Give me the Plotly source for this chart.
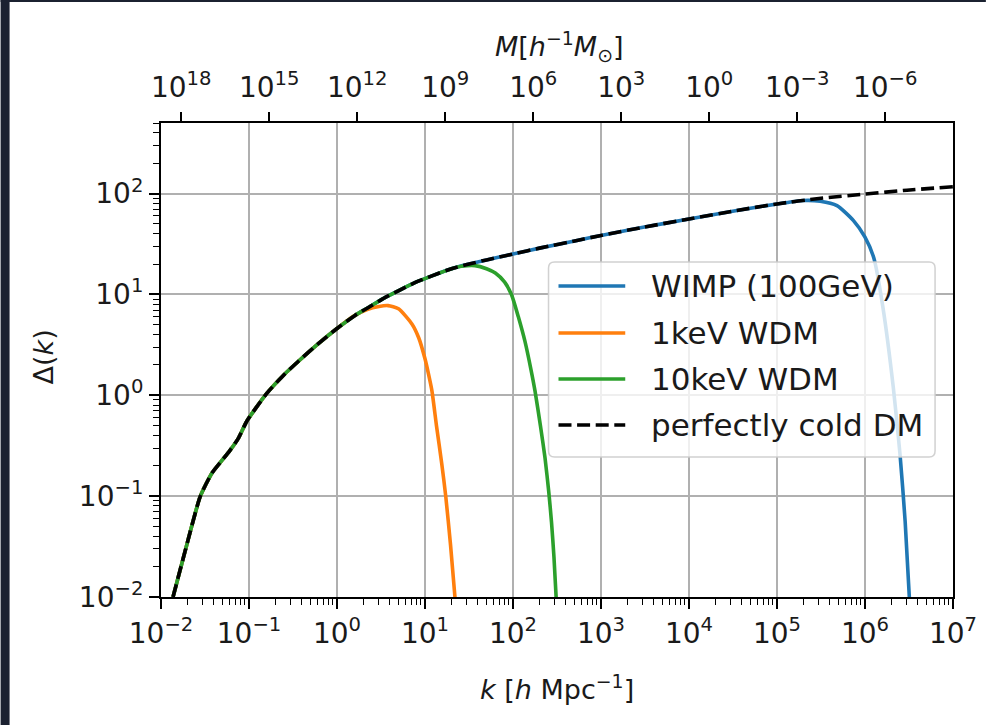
import plotly.graph_objects as go

# Wavenumber k [h/Mpc] and dimensionless power Delta(k) for perfectly cold DM
k_cdm = [0.0137, 0.02, 0.028, 0.038, 0.048, 0.06, 0.075, 0.094, 0.12, 0.16, 0.25,
         0.37, 0.6, 1.0, 1.6, 2.2, 3.5, 5.1, 8, 12, 20, 30, 50, 70, 100, 200, 550,
         1e3, 3e3, 1e4, 3.5e4, 1e5, 3e5, 1e6, 3e6, 1e7]
d_cdm = [0.01, 0.035, 0.1, 0.17, 0.22, 0.28, 0.37, 0.55, 0.75, 1.05, 1.6,
         2.2, 3.2, 4.6, 6.2, 7.3, 9.3, 11, 13.3, 15.3, 18, 19.8, 22, 23.5, 25.2, 28.8, 34.5,
         38.5, 46.3, 56, 68, 79, 89.5, 99, 108, 117]

# Cut-off branches of each model beyond the point where it leaves the cold curve
wimp_cut_k = [2e5, 3.1e5, 4.8e5, 7.4e5, 1e6, 1.26e6, 1.6e6, 2.1e6, 2.5e6, 2.86e6, 3.2e6]
wimp_cut_d = [85.5, 84, 76, 54, 37, 23, 7.4, 1.18, 0.26, 0.056, 0.0095]
wimp_join = 1e5

wdm1_cut_k = [2.2, 3.0, 3.8, 5.0, 7.1, 8.5, 10, 11, 12, 13.5, 15.5, 17.2, 19.5, 22]
wdm1_cut_d = [7.1, 7.6, 7.75, 7.2, 5.1, 3.7, 2.3, 1.6, 1.1, 0.5, 0.21, 0.10, 0.033, 0.0095]
wdm1_join = 1.6

wdm10_cut_k = [26, 37, 50, 63, 80, 96, 115, 137, 160, 178, 205, 231, 255, 274, 292, 310]
wdm10_cut_d = [19.0, 19.3, 18, 16.3, 13.3, 10, 6.0, 3.4, 1.8, 1.1, 0.5, 0.24, 0.11, 0.055, 0.025, 0.0095]
wdm10_join = 20

names = ["WIMP (100GeV)", "1keV WDM", "10keV WDM", "perfectly cold DM"]
colors = ["#1f77b4", "#ff7f0e", "#2ca02c", "#000000"]

# Halo-mass tick labels on the top axis: log10 M = LOG_MK - 3 log10 k
m_exponents = [18, 15, 12, 9, 6, 3, 0, -3, -6]
LOG_MK = 12.69

k_exponents = list(range(-2, 8))
y_exponents = list(range(-2, 3))


def branch(join, cut_k, cut_d):
    ks = [k for k in k_cdm if k <= join] + cut_k
    ds = [d for k, d in zip(k_cdm, d_cdm) if k <= join] + cut_d
    return ks, ds


series = [
    branch(wimp_join, wimp_cut_k, wimp_cut_d),
    branch(wdm1_join, wdm1_cut_k, wdm1_cut_d),
    branch(wdm10_join, wdm10_cut_k, wdm10_cut_d),
    (k_cdm, d_cdm),
]

FONT = "DejaVu Sans"
INK = "#1a1a1a"
W, H = 989, 725
L, R, T, B = 161, 33, 123, 128
PW, PH = W - L - R, H - T - B
LW = 3.6
DASH = "13px,5.6px"


def px(x):
    return (x - L) / PW


def py(y):
    return (H - B - y) / PH


def sup(e):
    return "10<sup>" + str(e).replace("-", "\u2212") + "</sup>"


fig = go.Figure()
for i, ((ks, ds), name, col) in enumerate(zip(series, names, colors)):
    fig.add_trace(go.Scatter(
        x=ks, y=ds, name=name, mode="lines",
        line=dict(color=col, width=LW, shape="spline", smoothing=0.6,
                  dash=DASH if i == 3 else "solid"),
        showlegend=False,
    ))

# Secondary top axis carrying the halo mass scale
m_tick_k = [10 ** ((LOG_MK - m) / 3) for m in m_exponents]
fig.add_trace(go.Scatter(x=[1e-2, 1e7], y=[None, None], xaxis="x2", yaxis="y",
                         showlegend=False, hoverinfo="skip"))

minor_k = [m * 10 ** e for e in range(-2, 7) for m in range(2, 10)]
minor_y = [m * 10 ** e for e in range(-2, 3) for m in range(2, 10)]

tickfont = dict(family=FONT, size=28, color=INK)
fig.update_layout(
    width=W, height=H,
    margin=dict(l=L, r=R, t=T, b=B),
    paper_bgcolor="white", plot_bgcolor="white",
    font=dict(family=FONT, color=INK),
    xaxis=dict(
        type="log", range=[-2, 7],
        tickmode="array", tickvals=[10 ** e for e in k_exponents],
        ticktext=[sup(e) for e in k_exponents],
        ticks="outside", ticklen=10, tickwidth=1.8, tickcolor="black",
        tickfont=tickfont,
        minor=dict(tickmode="array", tickvals=minor_k, ticks="outside",
                   ticklen=6, tickwidth=1.4, tickcolor="black", showgrid=False),
        showgrid=True, gridcolor="#b0b0b0", gridwidth=1.6,
        showline=True, linecolor="black", linewidth=2, mirror=True,
        zeroline=False,
    ),
    xaxis2=dict(
        type="log", range=[-2, 7], overlaying="x", side="top",
        tickmode="array", tickvals=m_tick_k, ticktext=[sup(e) for e in m_exponents],
        ticks="outside", ticklen=10, tickwidth=1.8, tickcolor="black",
        ticklabelstandoff=4,
        tickfont=tickfont, showgrid=False, showline=False, zeroline=False,
    ),
    yaxis=dict(
        type="log", range=[-2, 2.70],
        tickmode="array", tickvals=[10 ** e for e in y_exponents],
        ticktext=[sup(e) for e in y_exponents],
        ticks="outside", ticklen=10, tickwidth=1.8, tickcolor="black",
        tickfont=tickfont,
        minor=dict(tickmode="array", tickvals=minor_y, ticks="outside",
                   ticklen=6, tickwidth=1.4, tickcolor="black", showgrid=False),
        showgrid=True, gridcolor="#b0b0b0", gridwidth=1.6,
        showline=True, linecolor="black", linewidth=2, mirror=True,
        zeroline=False,
    ),
)

shapes = []
annotations = []

# Axis titles
title_font = dict(family=FONT, size=27, color=INK)
annotations.append(dict(text="<i>k</i> [<i>h</i> Mpc<sup>\u22121</sup>]",
                        x=px(558), y=py(687), xref="paper", yref="paper",
                        showarrow=False, font=title_font, xanchor="center", yanchor="middle"))
annotations.append(dict(text="<i>M</i>[<i>h</i><sup>\u22121</sup><i>M</i><sub>\u2299</sub>]",
                        x=px(561), y=py(47), xref="paper", yref="paper",
                        showarrow=False, font=title_font, xanchor="center", yanchor="middle"))
annotations.append(dict(text="\u0394(<i>k</i>)", textangle=-90,
                        x=px(43), y=py(357), xref="paper", yref="paper",
                        showarrow=False, font=title_font, xanchor="center", yanchor="middle"))

# Legend frame with rounded corners
lx0, lx1, ly0, ly1, rad = 550, 938, 262, 457, 6
path = (f"M{px(lx0 + rad)},{py(ly0)} L{px(lx1 - rad)},{py(ly0)} "
        f"Q{px(lx1)},{py(ly0)} {px(lx1)},{py(ly0 + rad)} "
        f"L{px(lx1)},{py(ly1 - rad)} Q{px(lx1)},{py(ly1)} {px(lx1 - rad)},{py(ly1)} "
        f"L{px(lx0 + rad)},{py(ly1)} Q{px(lx0)},{py(ly1)} {px(lx0)},{py(ly1 - rad)} "
        f"L{px(lx0)},{py(ly0 + rad)} Q{px(lx0)},{py(ly0)} {px(lx0 + rad)},{py(ly0)} Z")
shapes.append(dict(type="path", path=path, xref="paper", yref="paper",
                   fillcolor="rgba(255,255,255,0.8)", line=dict(color="rgba(204,204,204,0.9)", width=1.5),
                   layer="above"))
rows = [286, 333, 379, 425]
for i, (name, col, ry) in enumerate(zip(names, colors, rows)):
    shapes.append(dict(type="line", xref="paper", yref="paper",
                       x0=px(560), x1=px(627), y0=py(ry), y1=py(ry),
                       line=dict(color=col, width=LW, dash=DASH if i == 3 else "solid"),
                       layer="above"))
    annotations.append(dict(text=name, x=px(651), y=py(ry), xref="paper", yref="paper",
                            showarrow=False, xanchor="left", yanchor="middle",
                            font=dict(family=FONT, size=31, color=INK)))

# Dark page edges
edge = "#1b2130"
shapes.append(dict(type="rect", xref="paper", yref="paper", x0=px(0), x1=px(9),
                   y0=py(H), y1=py(0), fillcolor=edge, line=dict(width=0), layer="above"))
shapes.append(dict(type="rect", xref="paper", yref="paper", x0=px(0), x1=px(W),
                   y0=py(2), y1=py(0), fillcolor=edge, line=dict(width=0), layer="above"))

fig.update_layout(shapes=shapes, annotations=annotations)
fig.write_html("out.html")
